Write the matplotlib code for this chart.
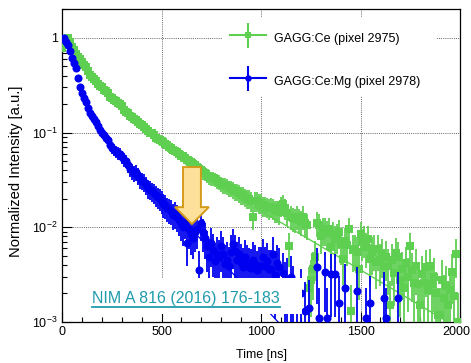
import numpy as np
import matplotlib
matplotlib.use("Agg")
import matplotlib.pyplot as plt
import matplotlib.transforms as mtransforms
from matplotlib.lines import Line2D
from matplotlib.patches import Rectangle, Polygon
from matplotlib.legend_handler import HandlerTuple

plt.rcParams["font.family"] = ["Liberation Sans", "DejaVu Sans"]
plt.rcParams["mathtext.default"] = "regular"

GREEN = "#5fcf52"
BLUE = "#0000f0"
TEAL = "#1f9bab"

# GAGG:Ce (pixel 2975), 10 ns bins starting at 0 ns
ce_time = np.arange(0, 2000, 10)
ce_values = [
    0.78, 0.92, 0.98, 1.0, 0.9, 0.8, 0.74, 0.68, 0.63, 0.6,
    0.56, 0.52, 0.49, 0.45, 0.41, 0.39, 0.37, 0.35, 0.33, 0.31,
    0.30, 0.285, 0.275, 0.26, 0.24, 0.23, 0.22, 0.215, 0.207, 0.2,
    0.19, 0.175, 0.167, 0.16, 0.15, 0.147, 0.14, 0.135, 0.128, 0.122,
    0.12, 0.115, 0.11, 0.105, 0.1, 0.1, 0.095, 0.088, 0.085, 0.083,
    0.082, 0.08, 0.076, 0.074, 0.07, 0.068, 0.066, 0.064, 0.063, 0.06,
    0.057, 0.056, 0.054, 0.052, 0.05, 0.049, 0.047, 0.046, 0.043, 0.041,
    0.04, 0.038, 0.037, 0.035, 0.034, 0.033, 0.033, 0.032, 0.031, 0.03,
    0.029, 0.028, 0.028, 0.027, 0.026, 0.026, 0.025, 0.024, 0.024, 0.023,
    0.022, 0.022, 0.021, 0.02, 0.02, 0.019, 0.013, 0.019, 0.019, 0.018,
    0.018, 0.017, 0.017, 0.0165, 0.016, 0.0165, 0.016, 0.015, 0.015, 0.0145,
    0.017, 0.0175, 0.016, 0.014, 0.0063, 0.013, 0.0125, 0.0122, 0.013, 0.012,
    0.0115, 0.013, 0.011, 0.0105, 0.0023, 0.0028, 0.0036, 0.0049, 0.0112, 0.0105,
    0.0081, 0.0095, 0.0095, 0.0088, 0.0095, 0.0062, 0.0085, 0.0075, 0.008, 0.0089,
    0.0066, 0.0046, 0.0072, 0.0065, 0.0095, 0.0013, 0.0058, 0.0059, 0.0055, 0.0036,
    0.0085, 0.007, 0.0075, 0.0062, 0.0075, 0.0046, 0.0055, 0.0059, 0.0043, 0.0059,
    0.0045, 0.0052, 0.0039, 0.0049, 0.0039, 0.0015, 0.0045, 0.0033, 0.0054, 0.0048,
    0.0028, 0.0036, 0.0023, 0.0042, 0.003, 0.0063, 0.0035, 0.0026, 0.0039, 0.0025,
    0.0015, 0.0032, 0.0026, 0.0038, 0.0022, 0.0039, 0.0025, 0.003, 0.002, 0.0012,
    0.0012, 0.0028, 0.0018, 0.0024, 0.0015, 0.0022, 0.0034, 0.0019, 0.0052, 0.001,
]

# GAGG:Ce:Mg (pixel 2978), 10 ns bins up to 1090 ns, then the sparse tail
mg_head_time = np.arange(0, 1100, 10)
mg_head_values = [
    0.97, 1.0, 0.9, 0.84, 0.72, 0.62, 0.55, 0.48, 0.38, 0.3,
    0.26, 0.23, 0.21, 0.18, 0.16, 0.15, 0.14, 0.13, 0.118, 0.107,
    0.1, 0.095, 0.088, 0.084, 0.074, 0.069, 0.066, 0.063, 0.061, 0.06,
    0.055, 0.052, 0.05, 0.045, 0.041, 0.039, 0.037, 0.038, 0.035, 0.032,
    0.031, 0.03, 0.028, 0.026, 0.025, 0.024, 0.023, 0.022, 0.021, 0.02,
    0.019, 0.0175, 0.017, 0.016, 0.0155, 0.015, 0.0135, 0.014, 0.013, 0.012,
    0.011, 0.01, 0.0115, 0.0069, 0.0095, 0.0085, 0.0078, 0.009, 0.0095, 0.0035,
    0.011, 0.0089, 0.0078, 0.0063, 0.0049, 0.0068, 0.0058, 0.0044, 0.0052, 0.0048,
    0.0063, 0.0052, 0.0041, 0.0045, 0.0039, 0.0055, 0.0066, 0.0056, 0.0045, 0.0052,
    0.0043, 0.0038, 0.0048, 0.0042, 0.0038, 0.0037, 0.0045, 0.0041, 0.0035, 0.0039,
    0.0039, 0.0049, 0.0039, 0.0044, 0.0036, 0.0036, 0.0052, 0.0031, 0.0042, 0.0038,
]
mg_tail_time = [1110, 1120, 1130, 1150, 1160, 1180, 1200, 1220, 1240, 1280,
                1290, 1320, 1330, 1350, 1370, 1390, 1420, 1480, 1530, 1550,
                1620, 1630, 1690]
mg_tail_values = [0.0033, 0.0025, 0.0028, 0.003, 0.0022, 0.0015, 0.002, 0.0013,
                  0.0014, 0.0038, 0.0011, 0.0034, 0.0011, 0.0032, 0.0032, 0.0016,
                  0.0023, 0.0021, 0.0011, 0.0016, 0.0018, 0.0011, 0.0018]

# exponential fits, straight lines on the log axis
ce_fit_time = [900, 2000]
ce_fit_values = [0.020, 0.00084]
mg_fit_time = [450, 1100]
mg_fit_values = [0.027, 0.00093]

# normalisation counts used for the Poisson error bars
CE_COUNTS = 1000
MG_COUNTS = 750


def poisson_err(values, counts):
    values = np.asarray(values, dtype=float)
    err = np.sqrt(values / counts)
    lower = np.minimum(err, values - 1e-5)
    return values, np.vstack([lower, err])


fig = plt.figure(figsize=(4.71, 3.63), dpi=100)
ax = fig.add_axes([62 / 471, 41 / 363, 398 / 471, 313 / 363])
ax.set_yscale("log")
ax.set_xlim(0, 2000)
ax.set_ylim(1e-3, 2.02)

ax.grid(True, which="major", color="#666666", linestyle=(0, (1, 1.2)), linewidth=0.7)
ax.set_axisbelow(True)

ax.plot(ce_fit_time, ce_fit_values, color=GREEN, lw=1.0, zorder=2)
ce_y, ce_e = poisson_err(ce_values, CE_COUNTS)
ax.errorbar(ce_time, ce_y, yerr=ce_e, fmt="s", color=GREEN, ms=5.2, mew=0,
            elinewidth=1.3, capsize=0, zorder=3)

mg_time = np.concatenate([mg_head_time, mg_tail_time])
mg_y, mg_e = poisson_err(np.concatenate([mg_head_values, mg_tail_values]), MG_COUNTS)
ax.errorbar(mg_time, mg_y, yerr=mg_e, fmt="o", color=BLUE, ms=5.8, mew=0,
            elinewidth=1.3, capsize=0, zorder=4)
ax.plot(mg_fit_time, mg_fit_values, color=BLUE, lw=0.9, zorder=4.5)

ax.set_xticks([0, 500, 1000, 1500, 2000])
ax.set_xticks(np.arange(0, 2001, 100), minor=True)
ax.set_xticklabels(["0", "500", "1000", "1500", "2000"])
ax.set_yticks([1e-3, 1e-2, 1e-1, 1])
ax.set_yticklabels(["$10^{-3}$", "$10^{-2}$", "$10^{-1}$", "1"])
ax.tick_params(which="both", direction="in", labelsize=9, top=False, right=False)
ax.tick_params(which="major", length=7, width=0.8, pad=3)
ax.tick_params(which="minor", length=3.5, width=0.8)
for sp in ax.spines.values():
    sp.set_linewidth(0.9)
# keep the last x label inside the picture
last = ax.get_xticklabels()[-1]
last.set_transform(last.get_transform()
                   + mtransforms.ScaledTranslation(-3 / 72, 0, fig.dpi_scale_trans))

ax.set_xlabel("Time [ns]", fontsize=9)
ax.xaxis.set_label_coords(0.5, -0.086)
ax.xaxis.label.set_va("top")
ax.set_ylabel("Normalized Intensity [a.u.]", fontsize=10.6)
ax.yaxis.set_label_coords(-0.098, 0.48)

# white boxes of the legend and the reference label
ax.add_patch(Rectangle((0.402, 0.719), 0.538, 0.255, transform=ax.transAxes,
                       facecolor="white", edgecolor="none", zorder=5))
ax.add_patch(Rectangle((0.018, 0.026), 0.585, 0.114, transform=ax.transAxes,
                       facecolor="white", edgecolor="none", zorder=5))

arrow = Polygon([(0.304, 0.495), (0.349, 0.495), (0.349, 0.367), (0.369, 0.367),
                 (0.3265, 0.313), (0.284, 0.367), (0.304, 0.367)],
                closed=True, transform=ax.transAxes, facecolor="#fde09a",
                edgecolor="#d49a1a", linewidth=1.4, zorder=6)
ax.add_patch(arrow)

ref = ax.text(0.0754, 0.0607, "NIM A 816 (2016) 176-183", transform=ax.transAxes,
              fontsize=11.5, color=TEAL, va="baseline", ha="left", zorder=7)

handles = []
for col, mk, size in [(GREEN, "s", 5.2), (BLUE, "o", 5.8)]:
    handles.append((
        Line2D([], [], color=col, lw=1.5),
        Line2D([], [], color=col, marker="|", ms=18, mew=1.5, ls="none"),
        Line2D([], [], color=col, marker=mk, ms=size * 0.8, mew=0, ls="none"),
    ))
leg = fig.legend(handles, ["GAGG:Ce (pixel 2975)", "GAGG:Ce:Mg (pixel 2978)"],
                 handler_map={tuple: HandlerTuple(ndivide=1)},
                 loc="upper left", bbox_to_anchor=(230 / 471, (363 - 28) / 363),
                 frameon=False, fontsize=9, handlelength=2.9, handleheight=2.0,
                 labelspacing=1.92, borderpad=0, borderaxespad=0, handletextpad=0.6)
leg.set_zorder(8)

fig.canvas.draw()
bb = ref.get_window_extent(fig.canvas.get_renderer())
inv = ax.transAxes.inverted()
(x0, y0), (x1, _) = inv.transform([(bb.x0, bb.y0 - 1), (bb.x1, bb.y0 - 1)])
ax.plot([x0, x1], [y0, y0], transform=ax.transAxes, color=TEAL, lw=1.3,
        zorder=7, clip_on=False)

fig.savefig("out.png", dpi=100)
